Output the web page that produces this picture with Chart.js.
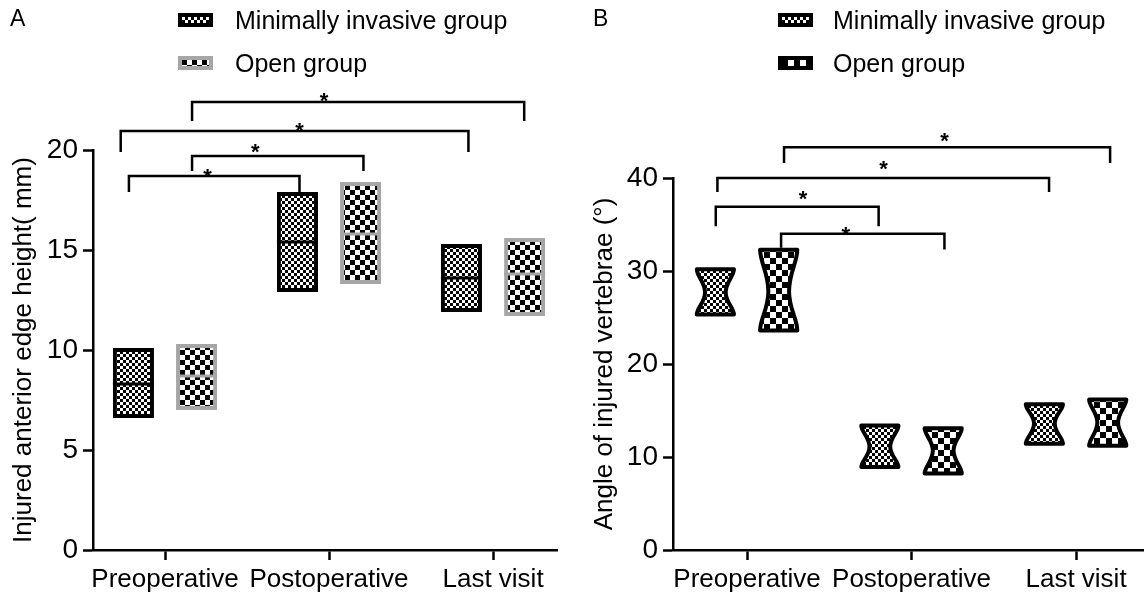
<!DOCTYPE html>
<html>
<head>
<meta charset="utf-8">
<script src="https://cdn.jsdelivr.net/npm/chart.js@4.4.1/dist/chart.umd.min.js"></script>
<style>
  body { margin: 0; background: #fff; font-family: "Liberation Sans", Arial, sans-serif; color: #000; }
  #wrap { position: relative; width: 1145px; height: 598px; overflow: hidden; }
  canvas { position: absolute; top: 0; }
  #chartA { left: 0; }
  #chartB { left: 572px; }
  .panel { position: absolute; top: 7px; font-size: 23px; line-height: 1; }
  .txt { position: absolute; font-size: 25px; line-height: 1; white-space: nowrap; }
  .sw { position: absolute; width: 35px; height: 14px; box-sizing: border-box; border: 4px solid #000; }
</style>
</head>
<body>
<div id="wrap">
  <canvas id="chartA" width="572" height="598"></canvas>
  <canvas id="chartB" width="573" height="598"></canvas>
  <div class="panel" style="left:10px">A</div>
  <div class="panel" style="left:593px">B</div>
  <span class="sw" id="swA1" style="left:178px; top:13px"></span>
  <span class="txt" style="left:235px; top:8px">Minimally invasive group</span>
  <span class="sw" id="swA2" style="left:178px; top:56px; border-color:#a6a6a6"></span>
  <span class="txt" style="left:235px; top:51px">Open group</span>
  <span class="sw" id="swB1" style="left:778px; top:13px"></span>
  <span class="txt" style="left:833px; top:8px">Minimally invasive group</span>
  <span class="sw" id="swB2" style="left:778px; top:56px"></span>
  <span class="txt" style="left:833px; top:51px">Open group</span>
</div>
<script>
'use strict';

let categories = ['Preoperative', 'Postoperative', 'Last visit'];
let groups = ['Minimally invasive group', 'Open group'];

// A: injured anterior edge height (mm) - low / high / median of each box
let heightMinLow = [6.6, 12.9, 11.9];
let heightMinHigh = [10.1, 17.9, 15.3];
let heightMinMid = [8.3, 15.4, 13.6];
let heightOpenLow = [7.0, 13.3, 11.7];
let heightOpenHigh = [10.3, 18.4, 15.6];
let heightOpenMid = [8.7, 15.8, 13.8];
let heightTicks = [0, 5, 10, 15, 20];

// B: angle of injured vertebrae (deg)
let angleMinLow = [25.1, 8.7, 11.2];
let angleMinHigh = [30.4, 13.6, 15.9];
let angleMinMid = [27.7, 11.1, 13.6];
let angleOpenLow = [23.4, 8.0, 11.0];
let angleOpenHigh = [32.5, 13.3, 16.4];
let angleOpenMid = [27.8, 10.7, 13.7];
let angleTicks = [0, 10, 20, 30, 40];

// significance brackets: [from, to, level, left leg end, right leg end, star x, star y]
let bracketsA = [
  [0.165, 2.19, 22.4, 21.45, 21.45, 0.97, 22.75],
  [-0.27, 1.85, 20.95, 19.9, 19.9, 0.82, 21.25],
  [0.165, 1.21, 19.7, 18.95, 18.95, 0.55, 20.2],
  [-0.22, 0.82, 18.7, 17.9, 17.9, 0.26, 18.95]
];
let bracketsB = [
  [0.225, 2.207, 43.3, 41.6, 41.6, 1.20, 44.6],
  [-0.18, 1.836, 40.0, 38.5, 38.5, 0.83, 41.6],
  [-0.19, 0.80, 36.9, 34.8, 34.8, 0.34, 38.4],
  [0.207, 1.20, 34.0, 32.5, 32.3, 0.60, 34.5]
];

Chart.defaults.font.family = '"Liberation Sans", Arial, sans-serif';
Chart.defaults.color = '#000';

function makeTile(cell, bg, fg) {
  let c = document.createElement('canvas');
  c.width = cell * 2;
  c.height = cell * 2;
  let g = c.getContext('2d');
  g.fillStyle = bg;
  g.fillRect(0, 0, cell * 2, cell * 2);
  g.fillStyle = fg;
  g.fillRect(0, 0, cell, cell);
  g.fillRect(cell, cell, cell, cell);
  return c;
}

let fineTile = makeTile(3, '#000', '#fff');
let coarseTileA = makeTile(5, '#fff', '#000');
let coarseTileB = makeTile(6, '#fff', '#000');

let ctxA = document.getElementById('chartA').getContext('2d');
let ctxB = document.getElementById('chartB').getContext('2d');

function setSwatch(id, tile) {
  document.getElementById(id).style.backgroundImage = 'url(' + tile.toDataURL() + ')';
}
setSwatch('swA1', fineTile);
setSwatch('swA2', coarseTileA);
setSwatch('swB1', fineTile);
setSwatch('swB2', coarseTileB);

function toBars(low, high) {
  return categories.map((c, i) => ({ x: i, y: [low[i], high[i]] }));
}

// median line across each box (panel A)
let medianPlugin = {
  id: 'medians',
  afterDatasetsDraw(chart, args, opts) {
    if (!opts.mids) return;
    let ctx = chart.ctx;
    let ys = chart.scales.y;
    opts.mids.forEach((mids, di) => {
      chart.getDatasetMeta(di).data.forEach((bar, i) => {
        let p = bar.getProps(['x', 'width']);
        let py = ys.getPixelForValue(mids[i]);
        ctx.save();
        ctx.strokeStyle = opts.colors[di];
        ctx.lineWidth = 3;
        ctx.beginPath();
        ctx.moveTo(p.x - p.width / 2, py);
        ctx.lineTo(p.x + p.width / 2, py);
        ctx.stroke();
        ctx.restore();
      });
    });
  }
};

// hourglass shaped notched boxes (panel B)
let notchPlugin = {
  id: 'notches',
  afterDatasetsDraw(chart, args, opts) {
    if (!opts.mids) return;
    let ctx = chart.ctx;
    let ys = chart.scales.y;
    opts.mids.forEach((mids, di) => {
      chart.getDatasetMeta(di).data.forEach((bar, i) => {
        let p = bar.getProps(['x', 'y', 'base', 'width']);
        let l = p.x - p.width / 2 + 2;
        let r = p.x + p.width / 2 - 2;
        let top = Math.min(p.y, p.base) + 2;
        let bot = Math.max(p.y, p.base) - 2;
        let m = ys.getPixelForValue(mids[i]);
        let inset = p.width * 0.2;
        let h1 = m - top;
        let h2 = bot - m;
        ctx.save();
        ctx.beginPath();
        ctx.moveTo(l, top);
        ctx.lineTo(r, top);
        ctx.bezierCurveTo(r, top + h1 * 0.3, r - inset, m - h1 * 0.45, r - inset, m);
        ctx.bezierCurveTo(r - inset, m + h2 * 0.45, r, bot - h2 * 0.3, r, bot);
        ctx.lineTo(l, bot);
        ctx.bezierCurveTo(l, bot - h2 * 0.3, l + inset, m + h2 * 0.45, l + inset, m);
        ctx.bezierCurveTo(l + inset, m - h1 * 0.45, l, top + h1 * 0.3, l, top);
        ctx.closePath();
        ctx.fillStyle = opts.fills[di];
        ctx.fill();
        ctx.lineWidth = 4;
        ctx.lineJoin = 'round';
        ctx.strokeStyle = '#000';
        ctx.stroke();
        ctx.restore();
      });
    });
  }
};

let bracketPlugin = {
  id: 'brackets',
  afterDraw(chart, args, opts) {
    let ctx = chart.ctx;
    let xs = chart.scales.x;
    let ys = chart.scales.y;
    ctx.save();
    ctx.strokeStyle = '#000';
    ctx.fillStyle = '#000';
    ctx.lineWidth = 2.5;
    ctx.font = 'bold 22px "Liberation Sans", Arial, sans-serif';
    ctx.textAlign = 'center';
    ctx.textBaseline = 'alphabetic';
    opts.list.forEach(b => {
      let x1 = xs.getPixelForValue(b[0]);
      let x2 = xs.getPixelForValue(b[1]);
      let yb = ys.getPixelForValue(b[2]);
      ctx.beginPath();
      ctx.moveTo(x1, ys.getPixelForValue(b[3]));
      ctx.lineTo(x1, yb);
      ctx.lineTo(x2, yb);
      ctx.lineTo(x2, ys.getPixelForValue(b[4]));
      ctx.stroke();
      ctx.fillText('*', xs.getPixelForValue(b[5]), ys.getPixelForValue(b[6]) + 13);
    });
    ctx.restore();
  }
};

function axisOptions(o) {
  return {
    responsive: false,
    animation: false,
    events: [],
    layout: { padding: { top: o.top, right: o.right, left: 0, bottom: 0 } },
    plugins: {
      legend: { display: false },
      tooltip: { enabled: false },
      medians: { mids: o.medians, colors: ['#000', '#a6a6a6'] },
      notches: { mids: o.notches, fills: o.fills },
      brackets: { list: o.brackets }
    },
    scales: {
      x: {
        type: 'linear',
        offset: false,
        min: o.xMin,
        max: o.xMax,
        afterBuildTicks: axis => { axis.ticks = categories.map((c, i) => ({ value: i })); },
        afterFit: axis => { axis.height = 48; },
        ticks: {
          callback: v => categories[v],
          font: { size: 26 },
          color: '#000',
          padding: 4,
          maxRotation: 0,
          autoSkip: false
        },
        grid: { offset: false, drawOnChartArea: false, tickLength: 10, tickWidth: 2.5, tickColor: '#000' },
        border: { color: '#000', width: 2.5 }
      },
      y: {
        min: 0,
        max: o.yTicks[o.yTicks.length - 1],
        afterBuildTicks: axis => { axis.ticks = o.yTicks.map(v => ({ value: v })); },
        afterFit: axis => { axis.width = o.yWidth; },
        ticks: { font: { size: 28 }, color: '#000', padding: 5 },
        grid: { drawOnChartArea: false, tickLength: 10, tickWidth: 2.5, tickColor: '#000' },
        border: { color: '#000', width: 2.5 },
        title: {
          display: true,
          text: o.title,
          font: { size: 26 },
          color: '#000',
          padding: { top: o.titlePad, bottom: 0 }
        }
      }
    }
  };
}

let chartA = new Chart(ctxA, {
  type: 'bar',
  data: {
    datasets: [
      {
        label: groups[0],
        data: toBars(heightMinLow, heightMinHigh),
        backgroundColor: ctxA.createPattern(fineTile, 'repeat'),
        borderColor: '#000',
        borderWidth: 4,
        borderSkipped: false,
        barPercentage: 0.65,
        categoryPercentage: 0.77
      },
      {
        label: groups[1],
        data: toBars(heightOpenLow, heightOpenHigh),
        backgroundColor: ctxA.createPattern(coarseTileA, 'repeat'),
        borderColor: '#a6a6a6',
        borderWidth: 4,
        borderSkipped: false,
        barPercentage: 0.65,
        categoryPercentage: 0.77
      }
    ]
  },
  options: axisOptions({
    top: 150, right: 15, xMin: -0.439, xMax: 2.39, yWidth: 93, titlePad: 8,
    yTicks: heightTicks, title: 'Injured anterior edge height( mm)',
    medians: [heightMinMid, heightOpenMid], brackets: bracketsA
  }),
  plugins: [medianPlugin, notchPlugin, bracketPlugin]
});

let chartB = new Chart(ctxB, {
  type: 'bar',
  data: {
    datasets: [
      {
        label: groups[0],
        data: toBars(angleMinLow, angleMinHigh),
        backgroundColor: 'rgba(0,0,0,0)',
        borderWidth: 0,
        barPercentage: 0.65,
        categoryPercentage: 0.77
      },
      {
        label: groups[1],
        data: toBars(angleOpenLow, angleOpenHigh),
        backgroundColor: 'rgba(0,0,0,0)',
        borderWidth: 0,
        barPercentage: 0.65,
        categoryPercentage: 0.77
      }
    ]
  },
  options: axisOptions({
    top: 178, right: 2, xMin: -0.45, xMax: 2.407, yWidth: 101, titlePad: 17,
    yTicks: angleTicks, title: 'Angle of injured vertebrae (°)',
    notches: [angleMinMid, angleOpenMid],
    fills: [ctxB.createPattern(fineTile, 'repeat'), ctxB.createPattern(coarseTileB, 'repeat')],
    brackets: bracketsB
  }),
  plugins: [medianPlugin, notchPlugin, bracketPlugin]
});
</script>
</body>
</html>
